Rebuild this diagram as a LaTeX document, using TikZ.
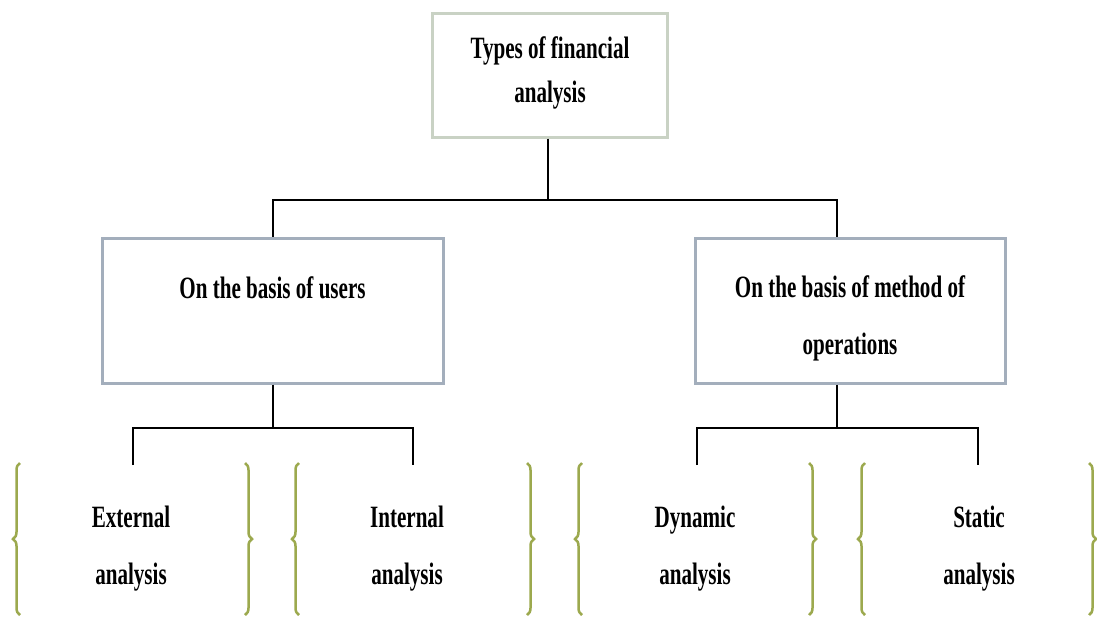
\documentclass[tikz,border=0pt]{standalone}
\usepackage{fontspec}
\setmainfont{Liberation Serif}[FakeStretch=0.68]
\usetikzlibrary{decorations.pathreplacing}
\definecolor{topborder}{HTML}{C9D2C4}
\definecolor{boxborder}{HTML}{A3AEBC}
\definecolor{bracegreen}{HTML}{9CA94E}
\tikzset{
  lbl/.style={font=\fontsize{31}{57}\selectfont\bfseries, align=center, inner sep=0pt, text=black},
  topbox/.style={draw=topborder, line width=3pt, fill=white, minimum width=235pt, minimum height=124pt, inner sep=0pt},
  midbox/.style={draw=boxborder, line width=3pt, fill=white, minimum height=145pt, inner sep=0pt},
  conn/.style={draw=black, line width=1.8pt},
  brc/.style={draw=bracegreen, line width=2.5pt, decorate, decoration={brace, amplitude=7pt}}
}
\begin{document}
\begin{tikzpicture}[x=1pt,y=-1pt]
\useasboundingbox (0,0) rectangle (1097,622);
\fill[white] (0,0) rectangle (1097,622);

% boxes
\node[topbox] (top) at (550,75) {};
\node[lbl, font=\fontsize{31}{44}\selectfont\bfseries] (toptext) at (550,73) {Types of financial\\analysis};
\node[midbox, minimum width=341pt] (users) at (272.5,310.5) {};
\node[lbl] (userstext) at (272.5,288) {On the basis of users};
\node[midbox, minimum width=310pt] (method) at (850,310.5) {};
\node[lbl] (methodtext) at (850,318) {On the basis of method of\\operations};

% leaves
\node[lbl] (ext) at (131,549) {External\\analysis};
\node[lbl] (int) at (407,549) {Internal\\analysis};
\node[lbl] (dyn) at (695,549) {Dynamic\\analysis};
\node[lbl] (sta) at (979,549) {Static\\analysis};

% connector coordinates
\coordinate (j0) at (548,200);
\coordinate (j1) at (273,428);
\coordinate (j2) at (837,428);
\coordinate (e1) at (133,465);
\coordinate (e2) at (413,465);
\coordinate (e3) at (697,465);
\coordinate (e4) at (978,465);

\draw[conn] (top.south -| j0) -- (j0);
\draw[conn] (users.north -| j1) |- (j0) -| (method.north -| j2);
\draw[conn] (users.south -| j1) -- (j1);
\draw[conn] (e1) |- (j1) -| (e2);
\draw[conn] (method.south -| j2) -- (j2);
\draw[conn] (e3) |- (j2) -| (e4);

% braces
\draw[brc] (20,615) -- (20,463);
\draw[brc] (245,463) -- (245,615);
\draw[brc] (299,615) -- (299,463);
\draw[brc] (527,463) -- (527,615);
\draw[brc] (582,615) -- (582,463);
\draw[brc] (809,463) -- (809,615);
\draw[brc] (865,615) -- (865,463);
\draw[brc] (1089,463) -- (1089,615);
\end{tikzpicture}
\end{document}
